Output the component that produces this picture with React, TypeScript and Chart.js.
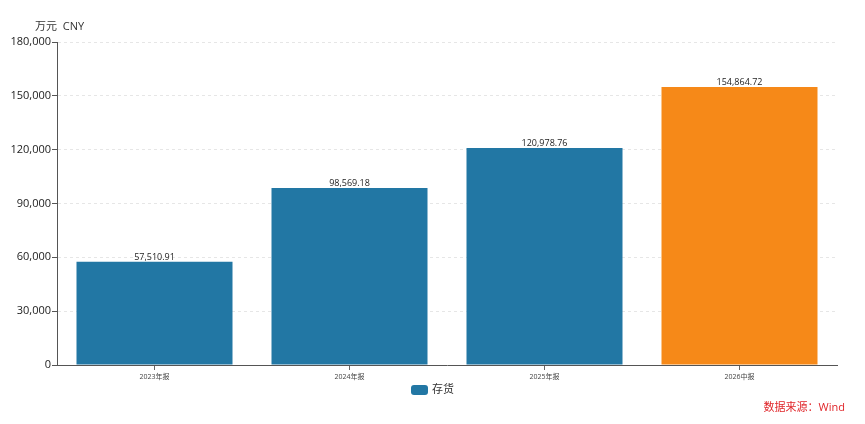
import React, { useEffect, useRef } from "react";
import { Chart, registerables } from "chart.js";

Chart.register(...registerables);

const categories = ["2023年报", "2024年报", "2025年报", "2026中报"];
const inventory = [57510.91, 98569.18, 120978.76, 154864.72];
const barColors = ["#2277a4", "#2277a4", "#2277a4", "#f68918"];
const seriesName = "存货";
const unitLabel = "万元  CNY";
const sourceLabel = "数据来源：Wind";
const yTicks = [0, 30000, 60000, 90000, 120000, 150000, 180000];

const FONT = "'Open Sans', 'Noto Sans CJK SC', sans-serif";

const fmt = (v: number, d: number) =>
  v.toLocaleString("en-US", { minimumFractionDigits: d, maximumFractionDigits: d });

const extrasPlugin = {
  id: "extras",
  afterDatasetsDraw(chart: any) {
    const ctx = chart.ctx;
    const meta = chart.getDatasetMeta(0);
    ctx.save();
    ctx.font = `9px ${FONT}`;
    ctx.fillStyle = "#222";
    ctx.textAlign = "center";
    ctx.textBaseline = "bottom";
    meta.data.forEach((bar: any, i: number) => {
      ctx.fillText(fmt(inventory[i], 2), bar.x, bar.y);
    });
    // unit label
    ctx.font = `11px ${FONT}`;
    ctx.fillStyle = "#333";
    ctx.textAlign = "left";
    ctx.textBaseline = "middle";
    ctx.fillText(unitLabel, 35, 27);
    // legend
    const text = seriesName;
    ctx.font = `11px ${FONT}`;
    const tw = ctx.measureText(text).width;
    const boxW = 17, boxH = 10, gap = 4;
    const total = boxW + gap + tw;
    const cx = chart.width / 2;
    const x0 = cx - total / 2;
    const y0 = 390;
    ctx.fillStyle = barColors[0];
    ctx.beginPath();
    (ctx as any).roundRect(x0, y0 - boxH / 2, boxW, boxH, 3);
    ctx.fill();
    ctx.fillStyle = "#333";
    ctx.fillText(text, x0 + boxW + gap, y0);
    // source
    ctx.font = `11px ${FONT}`;
    ctx.fillStyle = "#e0262a";
    ctx.textAlign = "right";
    ctx.fillText(sourceLabel, 845, 408);
    ctx.restore();
  },
};

export default function App() {
  const ref = useRef<HTMLCanvasElement | null>(null);
  useEffect(() => {
    document.body.style.margin = "0";
    const chart = new Chart(ref.current as HTMLCanvasElement, {
      type: "bar",
      data: {
        labels: categories,
        datasets: [
          {
            label: seriesName,
            data: inventory,
            backgroundColor: barColors,
            barPercentage: 0.8,
            categoryPercentage: 1,
          },
        ],
      },
      options: {
        animation: false,
        responsive: false,
        maintainAspectRatio: false,
        layout: { padding: { top: 42, right: 28, left: 0, bottom: 0 } },
        plugins: {
          legend: { display: false },
          tooltip: { enabled: false },
        },
        scales: {
          x: {
            afterFit: (s: any) => {
              s.height = 59;
            },
            grid: {
              display: true,
              drawOnChartArea: false,
              offset: false,
              tickLength: 5,
              tickColor: "#666",
            },
            border: { color: "#555", width: 1 },
            ticks: {
              font: { size: 7, family: FONT },
              color: "#444",
              padding: 3,
              maxRotation: 0,
            },
          },
          y: {
            min: 0,
            max: 180000,
            afterFit: (s: any) => {
              s.width = 57;
            },
            afterBuildTicks: (s: any) => {
              s.ticks = yTicks.map((v) => ({ value: v }));
            },
            grid: {
              color: "#e6e6e6",
              tickLength: 5,
              tickColor: "#555",
              tickBorderDash: [],
            } as any,
            border: { color: "#555", width: 1, dash: [3, 3] },
            ticks: {
              font: { size: 11, family: FONT },
              color: "#222",
              padding: 1,
              callback: (v: any) => fmt(Number(v), 0),
            },
          },
        },
      },
      plugins: [extrasPlugin],
    });
    return () => chart.destroy();
  }, []);
  return (
    <div style={{ position: "fixed", left: 0, top: 0, width: 865, height: 424, background: "#fff" }}>
      <canvas ref={ref} width={865} height={424} style={{ width: 865, height: 424 }} />
    </div>
  );
}
